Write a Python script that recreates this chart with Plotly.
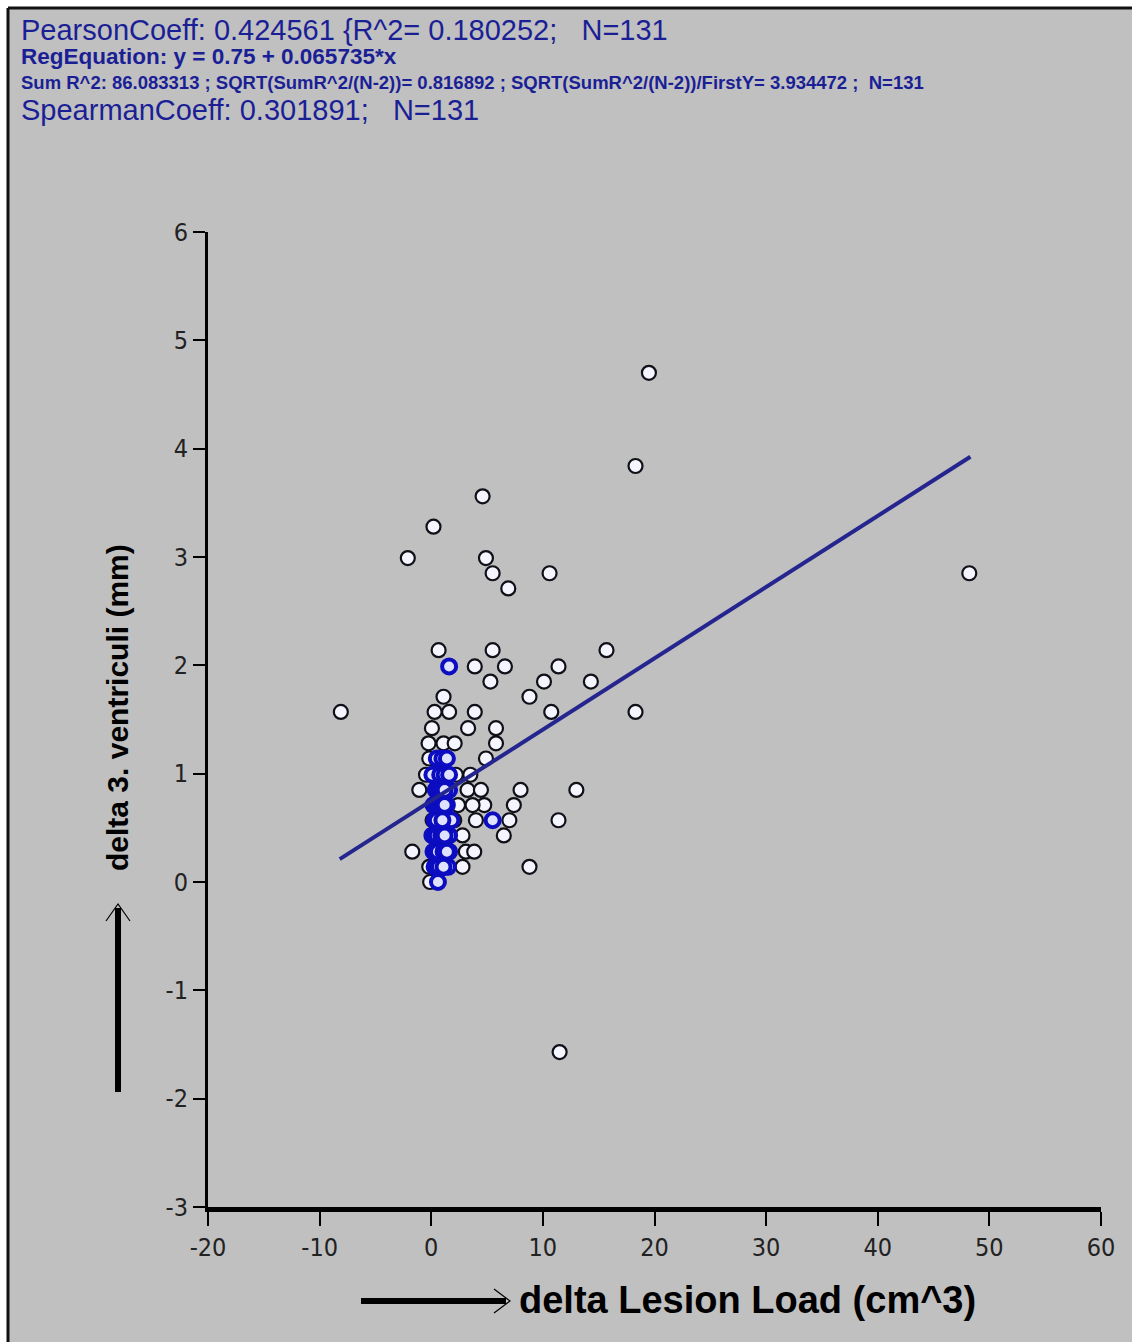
import plotly.graph_objects as go

# --- data -----------------------------------------------------------------
# open (black-rimmed) observations
x_open = [-8.1, -2.1, 0.2, 4.6, 4.9, 5.5, 6.9, 10.6, 18.3, 19.5, 48.2, 11.5,
          15.7, 14.3, 18.3, 11.4, 10.1, 8.8, 10.75, 11.4, 13.0, 8.8,
          0.66, 3.9, 5.5, 6.6, 5.3, 1.1, 0.3, 1.6, 3.9, 3.3, 0.06, 5.8,
          5.8, -0.24, 1.1, 2.1, 4.9, -0.18, -0.47, 0.42, 2.2, 3.5,
          -1.07, 0.87, 3.25, 4.45, 8.0, 7.4, 4.75, 3.7, 2.4, 7.0, 4.0,
          2.06, 6.5, 2.8, -1.7, 3.1, 3.85, 2.8, -0.18, -0.1, 0.12]
y_open = [1.57, 2.99, 3.28, 3.56, 2.99, 2.85, 2.71, 2.85, 3.84, 4.70, 2.85, -1.57,
          2.14, 1.85, 1.57, 1.99, 1.85, 1.71, 1.57, 0.57, 0.85, 0.14,
          2.14, 1.99, 2.14, 1.99, 1.85, 1.71, 1.57, 1.57, 1.57, 1.42, 1.42, 1.42,
          1.28, 1.28, 1.28, 1.28, 1.14, 1.14, 0.99, 0.99, 0.99, 0.99,
          0.85, 0.85, 0.85, 0.85, 0.85, 0.71, 0.71, 0.71, 0.71, 0.57, 0.57,
          0.57, 0.43, 0.43, 0.28, 0.28, 0.28, 0.14, 0.14, 0.0, 0.57]

# overlapping observations (blue-rimmed)
x_dense = [1.6, 5.5,
           0.3, 0.6, 0.9, 1.2, 1.5, 0.8, 1.0, 0.5, 0.7, 1.1,
           0.2, 0.5, 0.7, 1.0, 1.3, 1.6, 0.9, 0.4, 0.6, 1.1, 1.4,
           0.1, 0.4, 0.7, 1.0, 1.3, 1.6, 0.8, 0.5, 0.9, 1.2,
           0.3, 0.6, 0.9, 1.2, 1.5, 1.8, 0.8, 0.5, 1.0,
           0.2, 0.5, 0.8, 1.1, 1.4, 1.0, 0.7, 0.9, 1.2,
           0.4, 0.7, 1.0, 1.3, 1.6, 0.9, 1.2,
           0.1, 0.8, 1.2, 1.6,
           0.5, 1.0, 1.4,
           0.6]
y_dense = [1.99, 0.57,
           0.14, 0.14, 0.14, 0.14, 0.14, 0.14, 0.14, 0.14, 0.14, 0.14,
           0.28, 0.28, 0.28, 0.28, 0.28, 0.28, 0.28, 0.28, 0.28, 0.28, 0.28,
           0.43, 0.43, 0.43, 0.43, 0.43, 0.43, 0.43, 0.43, 0.43, 0.43,
           0.57, 0.57, 0.57, 0.57, 0.57, 0.57, 0.57, 0.57, 0.57,
           0.71, 0.71, 0.71, 0.71, 0.71, 0.71, 0.71, 0.71, 0.71,
           0.85, 0.85, 0.85, 0.85, 0.85, 0.85, 0.85,
           0.99, 0.99, 0.99, 0.99,
           1.14, 1.14, 1.14,
           0.0]

# regression fit
reg_intercept = 0.75
reg_slope = 0.065735
reg_x = [-8.2, 48.3]

x_ticks = [-20, -10, 0, 10, 20, 30, 40, 50, 60]
x_tick_labels = ["-20", "-10", "0", "10", "20", "30", "40", "50", "60"]
y_ticks = [-3, -2, -1, 0, 1, 2, 3, 4, 5, 6]
y_tick_labels = ["-3", "-2", "-1", "0", "1", "2", "3", "4", "5", "6"]

header_lines = [
    "PearsonCoeff: 0.424561 {R^2= 0.180252;   N=131",
    "RegEquation: y = 0.75 + 0.065735*x",
    "Sum R^2: 86.083313 ; SQRT(SumR^2/(N-2))= 0.816892 ; SQRT(SumR^2/(N-2))/FirstY= 3.934472 ;  N=131",
    "SpearmanCoeff: 0.301891;   N=131",
]
x_title = "delta Lesion Load (cm^3)"
y_title = "delta 3. ventriculi (mm)"

# --- geometry ---------------------------------------------------------------
W, H = 1132, 1342
L, R, T, B = 208, 1101, 232, 1207  # plot area in pixels


def px(xp):
    return (xp - L) / (R - L)


def py(yp):
    return (B - yp) / (B - T)


NAVY = "#1b1f96"
SILVER = "#c0c0c0"
NARROW = "DejaVu Sans Condensed, Liberation Sans Narrow, Arial Narrow, Liberation Sans, Arial"
SANS = "Liberation Sans, Arial, sans-serif"

fig = go.Figure()

fig.add_trace(go.Scatter(
    x=x_open, y=y_open, mode="markers",
    marker=dict(size=14, color="#f4f5ff", line=dict(color="#101018", width=2.2)),
    hoverinfo="x+y", showlegend=False))

fig.add_trace(go.Scatter(
    x=x_dense, y=y_dense, mode="markers",
    marker=dict(size=14, color="#dfe2ff", line=dict(color="#0c0cc0", width=4)),
    hoverinfo="x+y", showlegend=False))

reg_y = [reg_intercept + reg_slope * v for v in reg_x]
fig.add_trace(go.Scatter(
    x=reg_x, y=reg_y, mode="lines",
    line=dict(color="#25258f", width=4),
    hoverinfo="skip", showlegend=False))

shapes = [
    # grey canvas inside the outer frame
    dict(type="rect", xref="paper", yref="paper", layer="below",
         x0=px(8), x1=px(W + 10), y0=py(H + 10), y1=py(8),
         fillcolor=SILVER, line=dict(width=0)),
    # frame edges
    dict(type="line", xref="paper", yref="paper",
         x0=px(8), x1=px(8), y0=py(8), y1=py(H + 10),
         line=dict(color="#111", width=3)),
    dict(type="line", xref="paper", yref="paper",
         x0=px(8), x1=px(W + 10), y0=py(8), y1=py(8),
         line=dict(color="#111", width=3)),
    # x-title arrow
    dict(type="line", xref="paper", yref="paper",
         x0=px(361), x1=px(506), y0=py(1301), y1=py(1301),
         line=dict(color="#000", width=6)),
    dict(type="path", xref="paper", yref="paper",
         path=f"M {px(494)},{py(1289)} L {px(510)},{py(1301)} L {px(494)},{py(1313)}",
         line=dict(color="#000", width=1.2)),
    # y-title arrow
    dict(type="line", xref="paper", yref="paper",
         x0=px(118), x1=px(118), y0=py(1092), y1=py(908),
         line=dict(color="#000", width=6)),
    dict(type="path", xref="paper", yref="paper",
         path=f"M {px(106)},{py(921)} L {px(118)},{py(904)} L {px(130)},{py(921)}",
         line=dict(color="#000", width=1.2)),
]

annotations = []
header_specs = [
    (header_lines[0], 30, 29, SANS, False),
    (header_lines[1], 57, 22.5, SANS, True),
    (header_lines[2], 83, 18.5, SANS, True),
    (header_lines[3], 110, 29, SANS, False),
]
for text, yp, size, fam, bold in header_specs:
    annotations.append(dict(
        xref="paper", yref="paper", x=px(19), y=py(yp),
        xanchor="left", yanchor="middle", showarrow=False,
        text=f"<b>{text}</b>" if bold else text,
        font=dict(family=fam, size=size, color=NAVY)))

annotations.append(dict(
    xref="paper", yref="paper", x=px(517), y=py(1300),
    xanchor="left", yanchor="middle", showarrow=False,
    text=f"<b>{x_title}</b>",
    font=dict(family=SANS, size=38, color="#000")))
annotations.append(dict(
    xref="paper", yref="paper", x=px(117), y=py(708),
    xanchor="center", yanchor="middle", showarrow=False, textangle=-90,
    text=f"<b>{y_title}</b>",
    font=dict(family=SANS, size=30, color="#000")))

fig.update_layout(
    width=W, height=H,
    margin=dict(l=L, r=W - R, t=T, b=H - B, pad=0),
    paper_bgcolor="white", plot_bgcolor=SILVER,
    shapes=shapes, annotations=annotations,
    xaxis=dict(range=[-20, 60], tickvals=x_ticks, ticktext=x_tick_labels,
               showgrid=False, zeroline=False,
               showline=True, linecolor="#000", linewidth=5,
               ticks="outside", ticklen=14, tickwidth=1.5, tickcolor="#000",
               tickfont=dict(family=NARROW, size=25, color="#222")),
    yaxis=dict(range=[-3, 6], tickvals=y_ticks, ticktext=y_tick_labels,
               showgrid=False, zeroline=False,
               showline=True, linecolor="#000", linewidth=3,
               ticks="outside", ticklen=12, tickwidth=1.5, tickcolor="#000",
               tickfont=dict(family=NARROW, size=25, color="#222")),
)

fig.write_html("out.html")
